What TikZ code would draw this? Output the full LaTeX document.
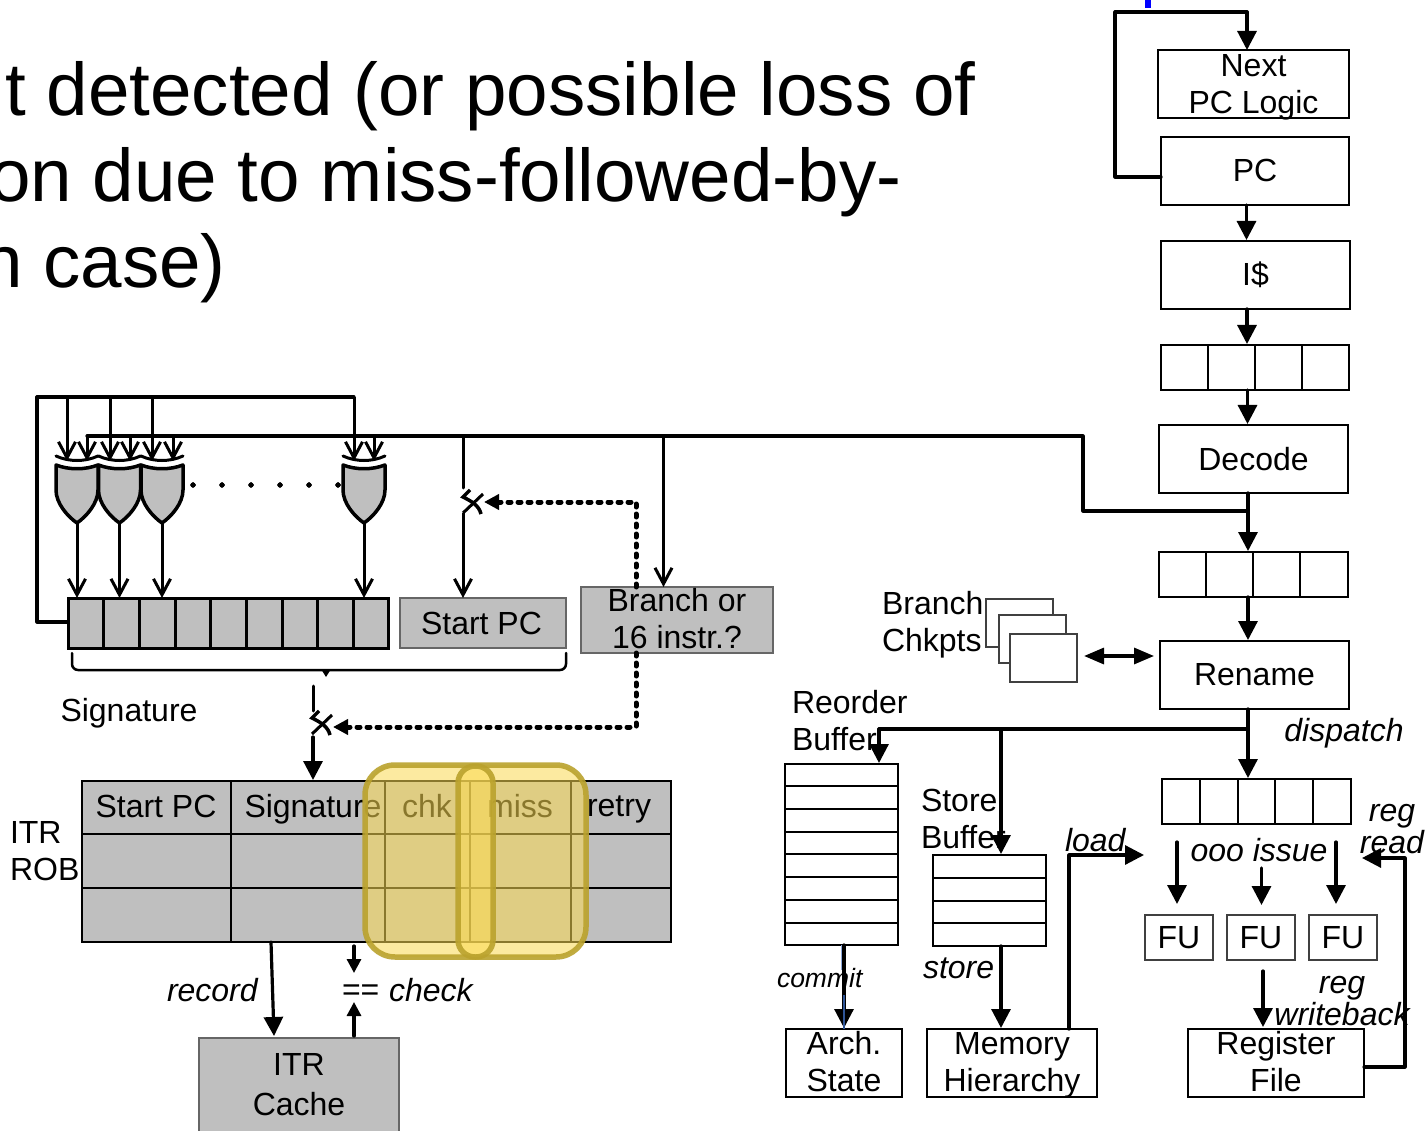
\documentclass[tikz,border=0pt]{standalone}
\usepackage{fontspec}
\setmainfont{Liberation Sans}
\usetikzlibrary{arrows.meta,calc}
\definecolor{grayfill}{HTML}{BFBFBF}
\definecolor{hlfill}{RGB}{251,218,82}
\definecolor{hledge}{RGB}{186,162,45}
\definecolor{thinblue}{HTML}{2F5597}
\definecolor{lightblue}{HTML}{8FAADC}
\tikzset{
  lab/.style={font=\fontsize{32}{37}\selectfont,inner sep=0pt,outer sep=0pt,align=center},
  lableft/.style={lab,align=left,anchor=west},
  ital/.style={font=\fontsize{32}{32}\selectfont\itshape,inner sep=0pt,outer sep=0pt,align=center},
  box/.style={draw=black,line width=2pt,fill=white,inner sep=0pt,outer sep=0pt,font=\fontsize{32}{37}\selectfont,align=center},
  thinbox/.style={box,draw=black!75,line width=1.5pt},
  graybox/.style={box,fill=grayfill,draw=black!60,line width=1.5pt},
  wire/.style={line width=3.2pt,line cap=round,line join=round},
  thinwire/.style={line width=3pt,line cap=round,line join=round},
  fa/.style={wire,-{Triangle[length=19pt,width=19pt]}},
  sa/.style={wire,-{Triangle[length=14pt,width=14pt]}},
  oa/.style={line width=3pt,line join=round,-{Straight Barb[length=16pt,width=17pt,line width=3pt]}},
  dots/.style={line width=5pt,line cap=round,dash pattern=on 3pt off 7pt,line join=round},
  dota/.style={dots,-{Triangle[length=15pt,width=15pt]}},
  cell/.style={line width=2pt},
  hl/.style={line width=5.5pt,draw=hledge,draw opacity=.9,fill=hlfill,fill opacity=.55},
  titletext/.style={anchor=base west,inner sep=0pt,font=\fontsize{74.6}{86}\selectfont},
}
\newcommand{\tl}[2]{\raisebox{-#1pt}[0pt][0pt]{#2}}
\newcommand{\bx}[7][box]{%
  \pgfmathsetmacro{\bw}{#5-#3}\pgfmathsetmacro{\bh}{#6-#4}%
  \pgfmathsetmacro{\bcx}{(#5+#3)/2}\pgfmathsetmacro{\bcy}{(#6+#4)/2}%
  \node[#1,minimum width=\bw pt,minimum height=\bh pt] (#2) at (\bcx,\bcy) {#7};}
\newcommand{\xorgate}[1]{%
  \begin{scope}[shift={(#1,0)}]
    \draw[line width=3.5pt,line join=round,fill=grayfill]
      (-21,465) .. controls (-8,470) and (8,470) .. (21,465) -- (21,490)
      .. controls (21,503) and (10,516) .. (0,523)
      .. controls (-10,516) and (-21,503) .. (-21,490) -- cycle;
    \draw[line width=3pt,line cap=round] (-21,456) .. controls (-8,462) and (8,462) .. (21,456);
  \end{scope}}
\newcommand{\muxsym}[2]{%
  \begin{scope}[shift={(#1,#2)}]
    \draw[line width=3.5pt,line join=miter] (7,-7) -- (0,0) .. controls (10,5) and (16,9) .. (18,17);
    \draw[line width=3pt] (0,16) -- (20,-3);
  \end{scope}}
\begin{document}
\begin{tikzpicture}[x=1pt,y=-1pt]
\useasboundingbox (0,0) rectangle (1425,1131);
\clip (0,0) rectangle (1425,1131);
\fill[white] (0,0) rectangle (1425,1131);

% Title
\node[titletext] (t1) at (5,116) {t detected (or possible loss of};
\node[titletext] (t2) at (-11,202) {on due to miss-followed-by-};
\node[titletext] (t3) at (-19,288) {n case)};

% Blue mark
\fill[blue] (1145,0) rectangle (1151,8);

% Pipeline boxes
\bx{nextpc}{1158}{50}{1349}{118}{\tl{11}{Next}\\\tl{11}{PC Logic}}
\bx{pc}{1161}{137}{1349}{205}{\raisebox{1pt}{PC}}
\bx{icache}{1161}{241}{1350}{309}{I\$}
\bx{q1}{1161}{345}{1349}{390}{}
\foreach \x in {1208,1255,1302} \draw[cell] (\x,345) -- (\x,390);
\bx{decode}{1159}{425}{1348}{493}{\raisebox{1pt}{Decode}}
\bx{q2}{1159}{552}{1348}{597}{}
\foreach \x in {1206,1253,1300} \draw[cell] (\x,552) -- (\x,597);
\bx{rename}{1160}{641}{1349}{709}{Rename}
\bx{iq}{1162}{779}{1351}{824}{}
\foreach \x in {1200,1238,1275,1313} \draw[cell] (\x,779) -- (\x,824);
\bx[thinbox]{fua}{1145}{915}{1213}{960}{\raisebox{1pt}{FU}}
\bx[thinbox]{fub}{1227}{915}{1295}{960}{\raisebox{1pt}{FU}}
\bx[thinbox]{fuc}{1309}{915}{1377}{960}{\raisebox{1pt}{FU}}
\bx{regfile}{1188}{1029}{1364}{1097}{\tl{10}{Register}\\\tl{10}{File}}
\bx{mem}{927}{1029}{1097}{1097}{\tl{9.5}{Memory}\\\tl{9.5}{Hierarchy}}
\bx{arch}{786}{1029}{902}{1097}{\tl{9.5}{Arch.}\\\tl{9.5}{State}}
\bx{rob}{785}{764}{898}{945}{}
\foreach \y in {786,809,832,854,877,900,923} \draw[cell] (785,\y) -- (898,\y);
\bx{sb}{933}{855}{1046}{946}{}
\foreach \y in {878,901,923} \draw[cell] (933,\y) -- (1046,\y);
\bx[thinbox]{ck1}{986}{599}{1053}{647}{}
\bx[thinbox]{ck2}{999}{615}{1066}{663}{}
\bx[thinbox]{ck3}{1010}{634}{1077}{682}{}

% Pipeline labels
\node[lableft] (lbranch) at (882,624.5) {Branch\\Chkpts};
\node[lableft] (lreorder) at (792,721) {Reorder\\Buffer};
\node[lableft] (lstore) at (921,819) {Store\\Buffer};
\node[ital] (ldispatch) at (1344,733) {dispatch};
\node[ital] (looo) at (1259,850) {ooo issue};
\node[ital] (lregread) at (1392,829.5) {reg\\read};
\node[ital,anchor=west] (lload) at (1065,840) {load};
\node[ital,anchor=west] (lstorew) at (923,968) {store};
\node[ital,anchor=west,font=\fontsize{26.5}{30}\selectfont\itshape] (lcommit) at (777,978) {commit};
\node[ital] (lwb) at (1342,1001) {reg\\writeback};

% Pipeline wires
\coordinate (top) at (1247,12);
\coordinate (topl) at (1115,12);
\coordinate (pcl) at (1115,177);
\draw[wire] (pc.west|-pcl) -- (pcl) -- (topl) -- (top);
\draw[fa] (top) -- (top|-nextpc.north);
\draw[fa] (1246.5,205) -- (1246.5,240);
\draw[fa] (1247,309) -- (1247,344);
\draw[fa] (1247.5,390) -- (1247.5,424);
\draw[fa] (1248,493) -- (1248,551);
\draw[fa] (1248,597) -- (1248,640);
\draw[fa] (1248,709) -- (1248,778);
\coordinate (dj) at (1248,729);
\draw[wire] (dj) -- (879,729);
\draw[fa] (879,729) -- (879,763);
\draw[fa] (1001,729) -- (1001,854);
\draw[fa] (844,945) -- (844,1028);
\draw[line width=1.5pt,lightblue] (841.5,945) -- (841.5,970);
\draw[line width=1.5pt,thinblue] (844,995) -- (844,1029);
\draw[fa] (1001,946) -- (1001,1028);
\draw[fa] (1069,1029) -- (1069,855) -- (1144,855);
\draw[fa] (1177,842) -- (1177,904);
\draw[fa] (1261.5,868) -- (1261.5,905);
\draw[fa] (1336,842) -- (1336,904);
\draw[fa] (1263,971) -- (1263,1027);
\draw[fa] (regfile.east|-0,1067) -- (1405,1067) -- (1405,858) -- (1362,858);
\draw[wire,{Triangle[length=20pt,width=16pt]}-{Triangle[length=20pt,width=16pt]},line cap=butt] (1084,656) -- (1154,656);

% Signature register
\bx[box,fill=grayfill,line width=3pt]{sig}{68}{598}{388}{648}{}
\foreach \x in {103.5,139,175,210,246,282,317,353} \draw[line width=3pt] (\x,598) -- (\x,648);
\bx[graybox]{spc}{400}{598}{566}{648}{\hspace{-3pt}Start PC}
\bx[graybox]{bor}{581}{587}{773}{653}{\tl{10}{Branch or}\\\tl{10}{16 instr.?}}
\node[lab] (lsig) at (129,713) {Signature};
\draw[line width=2.5pt,line cap=round,line join=round,rounded corners=6pt] (72,653) -- (72,670) -- (566,670) -- (566,653);
\fill (321,669) -- (326,677) -- (331,669) -- cycle;

% XOR gates
\foreach \x in {77,119.5,162,364} \xorgate{\x}
\foreach \x in {193,222,251,280,309,338} \fill (\x,485) circle (2.5pt);

% Feedback and bus wires
\draw[wire] (sig.west|-0,622) -- (37,622) -- (37,397) -- (354,397);
\foreach \x in {67,110,152,354} \draw[oa] (\x,397) -- (\x,461);
\coordinate (bj) at (1083,436);
\draw[wire] (87,436) -- (bj) -- (1083,511) -- (1248,511);
\foreach \x in {87,130,173,374} \draw[oa] (\x,436) -- (\x,461);
\foreach \x in {77,119.5,162,364} \draw[oa] (\x,523) -- (\x,598);
\draw[oa] (663.5,436) -- (663.5,587);

% Start PC mux and dotted control
\draw[thinwire] (463,436) -- (463,488);
\draw[oa] (463,513) -- (463,598);
\muxsym{463}{497}
\draw[dota] (636,587) -- (636,502) -- (484,502);
% Signature mux and dotted control
\draw[thinwire] (313,686) -- (313,711);
\draw[fa] (313,737) -- (313,780);
\muxsym{312}{718}
\draw[dota] (636,653) -- (636,727) -- (333,727);

% ITR ROB table
\bx[box,fill=grayfill,line width=1.5pt]{itr}{82}{781}{671}{942}{}
\foreach \x in {231,385,470,571} \draw[cell] (\x,781) -- (\x,942);
\foreach \y in {834,888} \draw[cell] (82,\y) -- (671,\y);
\node[lab] (h1) at (156,806) {Start PC};
\node[lab,anchor=center] (h2) at (313,809) {Signature};
\node[lab] (h3) at (427,806) {chk};
\node[lab] (h4) at (520,806) {miss};
\node[lab] (h5) at (619,809) {retry};
\node[lableft] (litr) at (10,851) {ITR\\ROB};

% Highlights
\draw[hl,rounded corners=30pt] (365,765) rectangle (586,957);
\draw[hl,rounded corners=17pt] (458,766) rectangle (493,957);

% ITR cache
\bx[graybox]{cache}{199}{1038}{399}{1160}{}
\node[lab,font=\fontsize{32}{40}\selectfont] (lcache) at (299,1084.5) {ITR\\Cache};
\coordinate (rec) at (271,942);
\draw[fa] (rec) -- (274,1036);
\draw[sa] (354,946) -- (354,973);
\draw[sa] (354,1036) -- (354,1002);
\node[ital,anchor=west] (lrecord) at (167,990) {record};
\node[lab,anchor=west] (leq) at (342,993) {==};
\node[ital,anchor=west] (lcheck) at (389,990) {check};
\end{tikzpicture}
\end{document}
